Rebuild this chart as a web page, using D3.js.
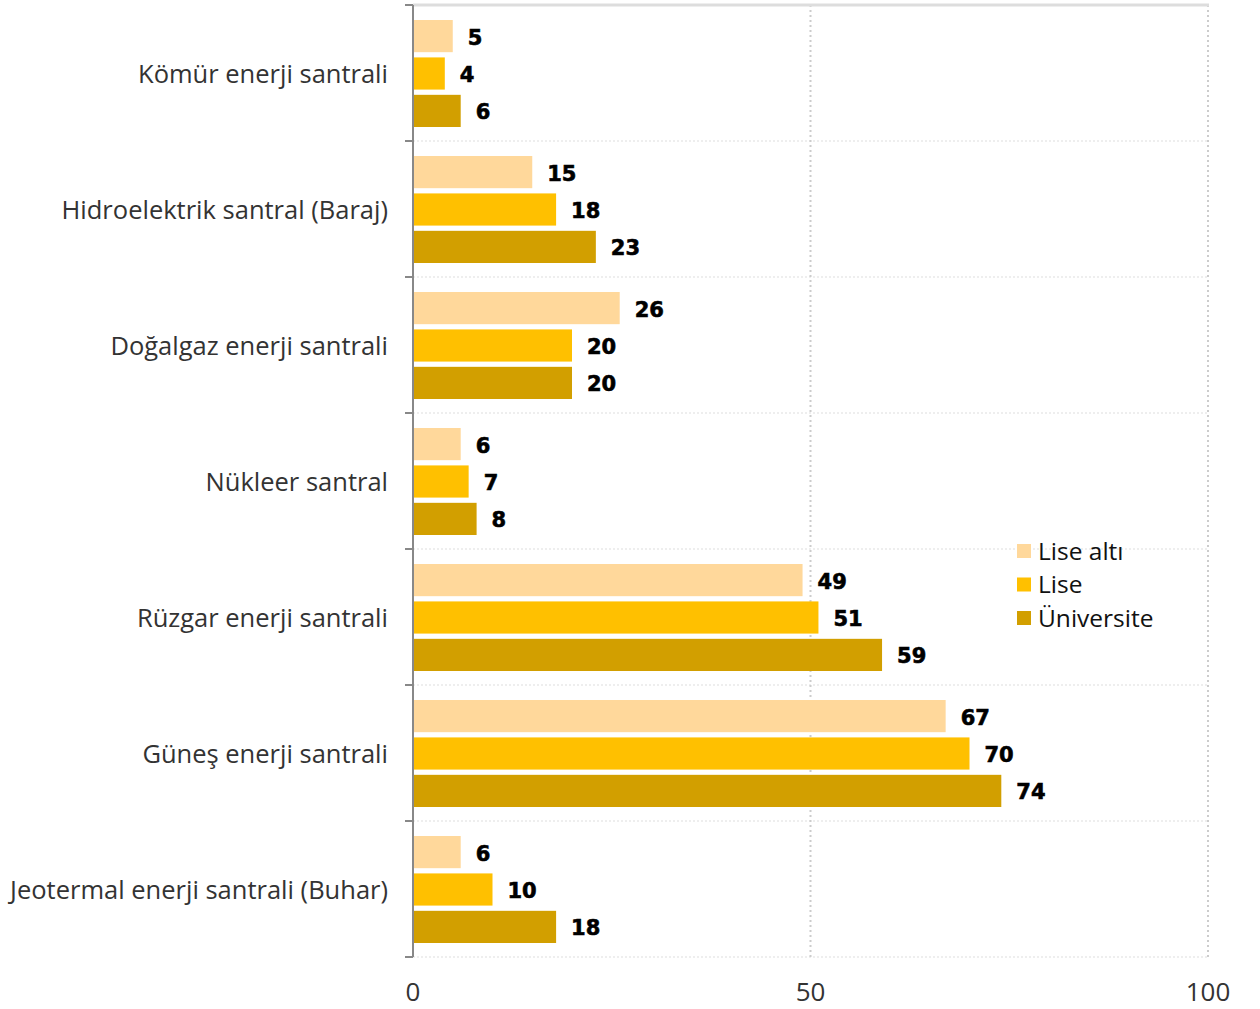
<!DOCTYPE html>
<html><head><meta charset="utf-8">
<script src="https://cdn.jsdelivr.net/npm/d3@7/dist/d3.min.js"></script>
<style>body{margin:0;background:#fff}</style>
</head><body>
<svg id="c" width="1260" height="1009"></svg>
<script>
const categories = ["Kömür enerji santrali","Hidroelektrik santral (Baraj)","Doğalgaz enerji santrali","Nükleer santral","Rüzgar enerji santrali","Güneş enerji santrali","Jeotermal enerji santrali (Buhar)"];
const seriesNames = ["Lise altı","Lise","Üniversite"];
const liseAlti = [5,15,26,6,49,67,6];
const lise = [4,18,20,7,51,70,10];
const universite = [6,23,20,8,59,74,18];
const colors = ["#FFD89B","#FFC000","#D29F00"];
const xTicks = [0,50,100];

const seriesVals = [liseAlti, lise, universite];
const svg = d3.select("#c");
const m = {left:413, right:1208, top:5, bottom:957};
const x = d3.scaleLinear().domain([0,100]).range([m.left, m.right]);
const y = d3.scaleBand().domain(categories).range([m.top, m.bottom]);
const inner = d3.scaleBand().domain(seriesNames).range([15, y.bandwidth()-14]).paddingInner(0.14);
const labFont = "Open Sans";

// grid
const g = svg.append("g");
categories.forEach((c,i)=>{
  if(i>0) g.append("line").attr("x1",m.left).attr("x2",m.right).attr("y1",y(c)).attr("y2",y(c))
    .attr("stroke","#ddd").attr("stroke-width",1).attr("stroke-dasharray","2,2");
});
g.append("line").attr("x1",m.left).attr("x2",m.right).attr("y1",m.bottom).attr("y2",m.bottom)
  .attr("stroke","#ddd").attr("stroke-width",1).attr("stroke-dasharray","2,2");
xTicks.slice(1).forEach(t=>{
  g.append("line").attr("x1",x(t)).attr("x2",x(t)).attr("y1",m.top).attr("y2",m.bottom)
    .attr("stroke","#ccc").attr("stroke-width",2).attr("stroke-dasharray","2,3");
});
g.append("line").attr("x1",m.left).attr("x2",m.right+1).attr("y1",m.top).attr("y2",m.top)
  .attr("stroke","#ddd").attr("stroke-width",3);

// bars
categories.forEach((c,i)=>{
  seriesNames.forEach((s,j)=>{
    const v = seriesVals[j][i];
    const yy = y(c)+inner(s);
    svg.append("rect").attr("x",x(0)).attr("y",yy).attr("width",x(v)-x(0)).attr("height",inner.bandwidth())
      .attr("fill",colors[j]);
    svg.append("text").attr("x",x(v)+15).attr("y",yy+inner.bandwidth()/2+1).attr("dy","0.36em")
      .attr("font-family","DejaVu Sans").attr("font-weight","bold").attr("font-size",21)
      .attr("fill","#000").attr("stroke","#000").attr("stroke-width",0.6).text(v);
  });
});

// y axis
const ya = svg.append("g").attr("transform",`translate(${m.left},0)`);
ya.append("line").attr("x1",0).attr("x2",0).attr("y1",m.top).attr("y2",m.bottom).attr("stroke","#888").attr("stroke-width",2);
const bounds = categories.map(c=>y(c)).concat([m.bottom]);
bounds.forEach(b=>ya.append("line").attr("x1",-8).attr("x2",0).attr("y1",b).attr("y2",b).attr("stroke","#888").attr("stroke-width",2));
categories.forEach(c=>{
  ya.append("text").attr("x",-25).attr("y",y(c)+y.bandwidth()/2+1).attr("dy","0.36em")
    .attr("text-anchor","end").attr("font-family",labFont).attr("font-size",25.5).attr("fill","#333").text(c);
});

// x axis labels
xTicks.forEach(t=>{
  svg.append("text").attr("x",x(t)).attr("y",1001).attr("text-anchor","middle")
    .attr("font-family",labFont).attr("font-size",26).attr("fill","#333").text(t);
});

// legend
seriesNames.forEach((s,j)=>{
  const ly = 551 + j*33.5;
  svg.append("rect").attr("x",1017).attr("y",ly-7).attr("width",14).attr("height",14).attr("fill",colors[j]);
  svg.append("text").attr("x",1038).attr("y",ly).attr("dy","0.36em")
    .attr("font-family",labFont).attr("font-size",24.5).attr("fill","#111").text(s);
});
</script>
</body></html>
